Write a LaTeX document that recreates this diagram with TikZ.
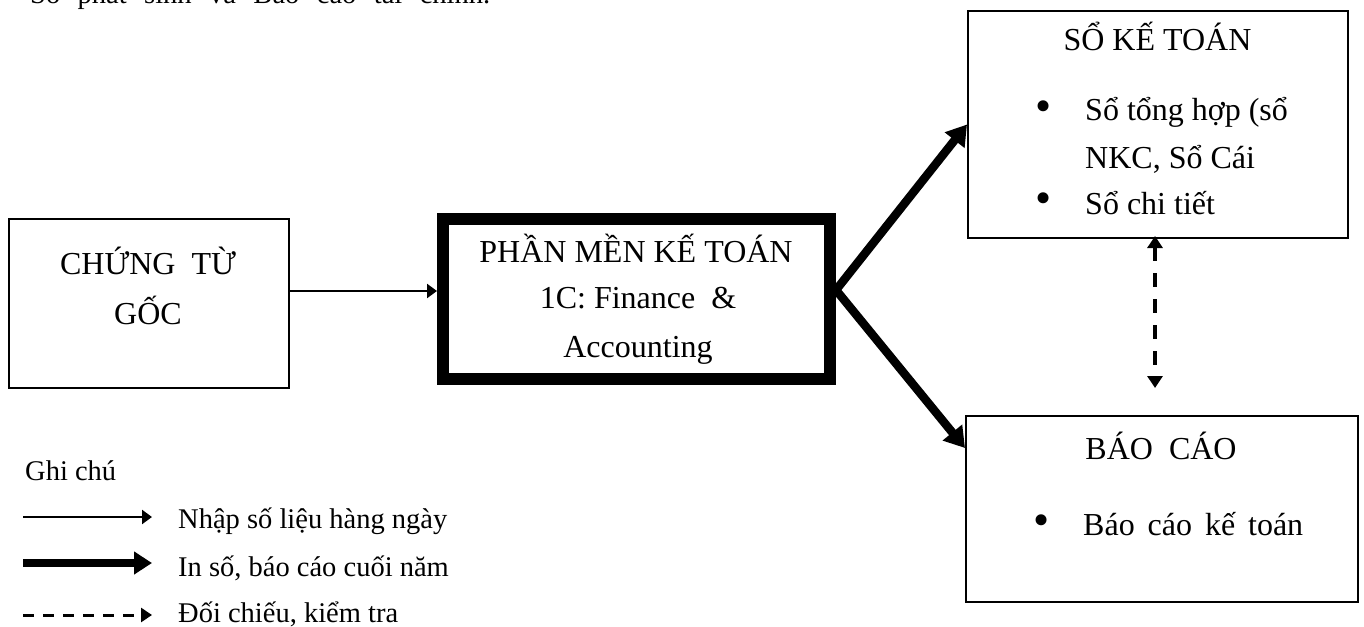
\documentclass[tikz,border=0pt]{standalone}
\usepackage{fontspec}
\setmainfont{Liberation Serif}
\usetikzlibrary{arrows.meta}
\newcommand\bigtxt{\fontsize{32}{38}\selectfont}
\newcommand\lgtxt{\fontsize{28.5}{34}\selectfont}
\newcommand\bultxt{\fontsize{46}{46}\selectfont}
\begin{document}
\begin{tikzpicture}[x=1pt,y=-1pt,
  box/.style={draw, line width=2pt, inner sep=0pt, fill=none},
  txt/.style={inner sep=0pt, font=\bigtxt},
  bul/.style={inner sep=0pt, font=\bultxt, anchor=center},
  lg/.style={inner sep=0pt, font=\lgtxt},
  thinarr/.style={line width=2.3pt, -{Triangle[length=10pt,width=14pt]}},
  thickarr/.style={line width=8.5pt, -{Triangle[length=20pt,width=24pt]}},
  dasharr/.style={line width=3.5pt, dash pattern=on 14pt off 12pt, {Triangle[length=12pt,width=15pt]}-{Triangle[length=12pt,width=15pt]}},
  legdash/.style={line width=3pt, dash pattern=on 11pt off 9pt, -{Triangle[length=11pt,width=14pt]}},
  legthick/.style={line width=8pt, -{Triangle[length=18pt,width=22pt]}}
]
\useasboundingbox (0,0) rectangle (1364,626);

% top clipped line
\node[lg, anchor=base west] (top) at (30,4) {\makebox[460pt][s]{Sổ phát sinh và Báo cáo tài chính.}};

% boxes
\node[box, minimum width=280pt, minimum height=169pt] (cg) at (149,303.5) {};
\node[box, line width=12pt, minimum width=387pt, minimum height=160pt] (pm) at (636.5,299) {};
\node[box, minimum width=380pt, minimum height=227pt] (so) at (1158,124.5) {};
\node[box, minimum width=392pt, minimum height=186pt] (bc) at (1162,509) {};

% box texts
\node[txt, anchor=base] (cg1) at (148,274) {CHỨNG\ \ TỪ};
\node[txt, anchor=base] (cg2) at (148,324) {GỐC};
\node[txt, anchor=base] (pm1) at (636,262) {PHẦN MỀN KẾ TOÁN};
\node[txt, anchor=base] (pm2) at (638,308) {1C: Finance\ \ \&};
\node[txt, anchor=base] (pm3) at (638,357) {Accounting};
\node[txt, anchor=base] (so1) at (1157.5,51) {SỔ KẾ TOÁN};
\node[bul] (sob1) at (1044,111) {•};
\node[txt, anchor=base west] (so2) at (1085,120) {Sổ tổng hợp (sổ};
\node[txt, anchor=base west] (so3) at (1085,168) {NKC, Sổ Cái};
\node[bul] (sob2) at (1044,203) {•};
\node[txt, anchor=base west] (so4) at (1085,214) {Sổ chi tiết};
\node[txt, anchor=base] (bc1) at (1161,459) {BÁO\ \ CÁO};
\node[bul] (bcb1) at (1042,525) {•};
\node[txt, anchor=base west] (bc2) at (1083,535) {\makebox[220pt][s]{Báo cáo kế toán}};

% connectors
\draw[thinarr] ([yshift=12.5pt]cg.east) -- ([yshift=8pt]pm.west);
\draw[thickarr] ([yshift=9pt]pm.east) -- (so.west);
\draw[thickarr] ([yshift=9pt]pm.east) -- ([yshift=61pt]bc.west);
\coordinate (dd) at (1155,388);
\draw[dasharr] ([xshift=-3pt,yshift=3pt]so.south) -- (dd);

% legend
\node[lg, anchor=base west] (gc) at (25,480) {Ghi chú};
\node[lg, anchor=base west] (lg1) at (178,528) {Nhập\ số liệu hàng\ ngày};
\node[lg, anchor=base west] (lg2) at (178,576) {In số, báo cáo cuối năm};
\node[lg, anchor=base west] (lg3) at (178,622) {Đối chiếu, kiểm tra};
\coordinate (l1a) at (23,517); \coordinate (l1b) at (152,517);
\coordinate (l2a) at (23,563); \coordinate (l2b) at (152,563);
\coordinate (l3a) at (23,615); \coordinate (l3b) at (152,615);
\draw[thinarr] (l1a) -- (l1b);
\draw[legthick] (l2a) -- (l2b);
\draw[legdash] (l3a) -- (l3b);
\end{tikzpicture}
\end{document}
